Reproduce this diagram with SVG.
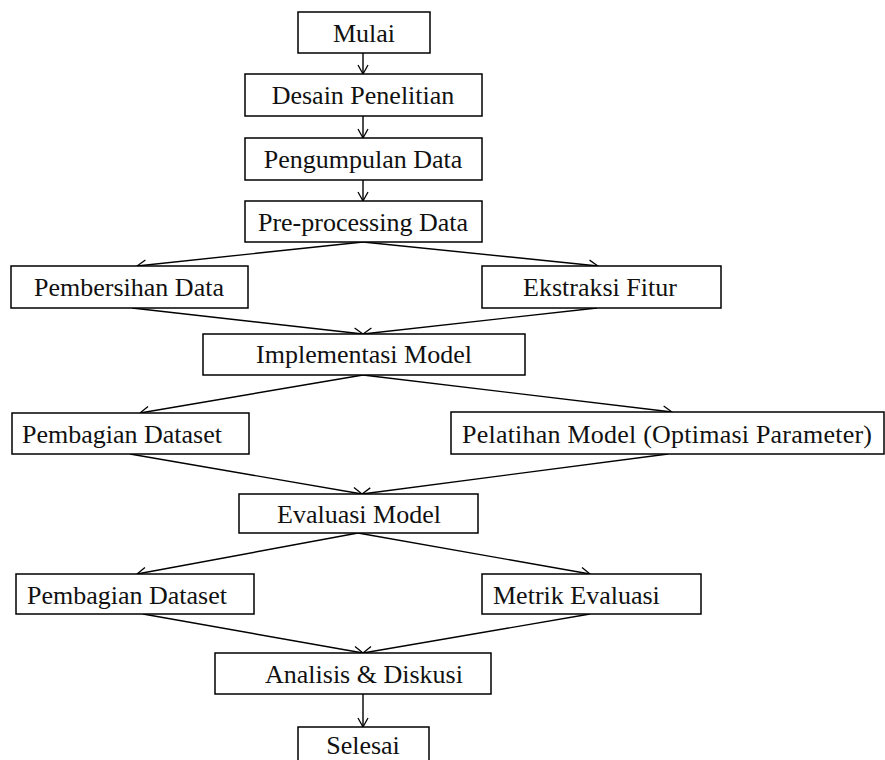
<svg xmlns="http://www.w3.org/2000/svg" width="885" height="760" viewBox="0 0 885 760">
<style>
.box{fill:#fff;stroke:#000;stroke-width:1.5}
.t{font-family:"Liberation Serif","Times New Roman",serif;font-size:26px;fill:#111}
.c{text-anchor:middle}
.e{stroke:#000;stroke-width:1.4;fill:none;marker-end:url(#ah)}
</style>
<defs>
<marker id="ah" markerUnits="userSpaceOnUse" markerWidth="12" markerHeight="12" refX="10" refY="6" orient="auto">
<path d="M1,1 L10,6 L1,11" fill="none" stroke="#000" stroke-width="1.3"/>
</marker>
</defs>
<rect width="885" height="760" fill="#fff"/>
<g id="connectors">
<line class="e" x1="363" y1="53" x2="363" y2="74"/>
<line class="e" x1="363" y1="116" x2="363" y2="138"/>
<line class="e" x1="363" y1="180" x2="363" y2="201"/>
<line class="e" x1="363" y1="242" x2="137" y2="266"/>
<line class="e" x1="363" y1="242" x2="598" y2="266"/>
<line class="e" x1="132" y1="308" x2="363" y2="334"/>
<line class="e" x1="597" y1="308" x2="363" y2="334"/>
<line class="e" x1="363" y1="375" x2="140" y2="413"/>
<line class="e" x1="363" y1="375" x2="672" y2="412"/>
<line class="e" x1="130" y1="454" x2="362" y2="494"/>
<line class="e" x1="668" y1="454" x2="362" y2="494"/>
<line class="e" x1="358" y1="533" x2="137" y2="574"/>
<line class="e" x1="358" y1="533" x2="590" y2="574"/>
<line class="e" x1="143" y1="614" x2="363" y2="653"/>
<line class="e" x1="590" y1="614" x2="363" y2="653"/>
<line class="e" x1="363" y1="694" x2="363" y2="727"/>
</g>
<g id="mulai"><rect class="box" x="298" y="12" width="132" height="41"/><text class="t c" x="364" y="42">Mulai</text></g>
<g id="desain"><rect class="box" x="245" y="74" width="237" height="42"/><text class="t c" x="363" y="104">Desain Penelitian</text></g>
<g id="pengumpulan"><rect class="box" x="245" y="138" width="237" height="42"/><text class="t c" x="363" y="168">Pengumpulan Data</text></g>
<g id="preprocessing"><rect class="box" x="245" y="201" width="237" height="41"/><text class="t c" x="363" y="231">Pre-processing Data</text></g>
<g id="pembersihan"><rect class="box" x="11" y="266" width="237" height="42"/><text class="t c" x="129" y="296">Pembersihan Data</text></g>
<g id="ekstraksi"><rect class="box" x="482" y="266" width="239" height="42"/><text class="t c" x="600" y="296">Ekstraksi Fitur</text></g>
<g id="implementasi"><rect class="box" x="203" y="334" width="322" height="41"/><text class="t c" x="364" y="363">Implementasi Model</text></g>
<g id="pembagian1"><rect class="box" x="12" y="413" width="237" height="41"/><text class="t" x="22" y="443">Pembagian Dataset</text></g>
<g id="pelatihan"><rect class="box" x="451" y="412" width="433" height="42"/><text class="t" x="462" y="443" textLength="410" lengthAdjust="spacing">Pelatihan Model (Optimasi Parameter)</text></g>
<g id="evaluasi"><rect class="box" x="239" y="494" width="239" height="39"/><text class="t" x="277" y="523">Evaluasi Model</text></g>
<g id="pembagian2"><rect class="box" x="16" y="574" width="238" height="40"/><text class="t" x="27" y="604">Pembagian Dataset</text></g>
<g id="metrik"><rect class="box" x="482" y="574" width="219" height="40"/><text class="t" x="493" y="604">Metrik Evaluasi</text></g>
<g id="analisis"><rect class="box" x="215" y="653" width="276" height="41"/><text class="t" x="265" y="683">Analisis &amp; Diskusi</text></g>
<g id="selesai"><rect class="box" x="298" y="727" width="131" height="40"/><text class="t c" x="363" y="754">Selesai</text></g>
</svg>
